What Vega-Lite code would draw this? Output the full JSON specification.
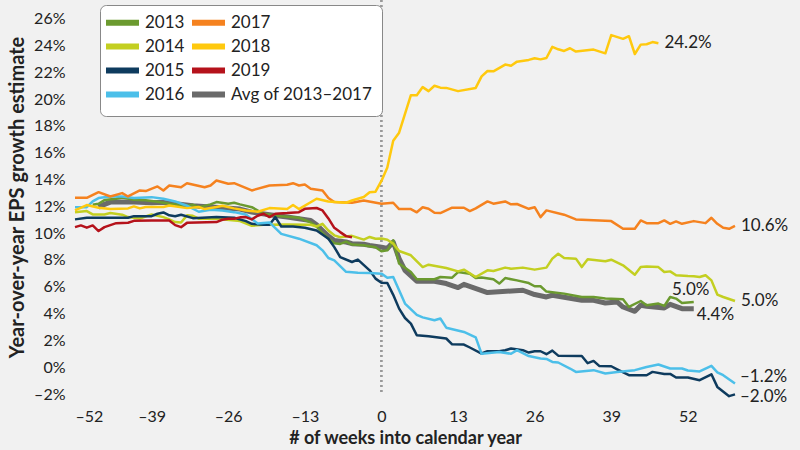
{
  "$schema": "https://vega.github.io/schema/vega-lite/v6.json",
  "width": 660,
  "height": 394,
  "autosize": {"type": "none"},
  "padding": {"left": 75, "right": 65, "top": 0, "bottom": 56},
  "background": "#f1f1f1",
  "config": {"view": {"stroke": null}, "font": "Lato", "axis": {"labelOverlap": false, "labelSeparation": 0}},
  "datasets": {
    "lines": [
      {"series":"Avg of 2013–2017","week":-48,"value":11.94},{"series":"Avg of 2013–2017","week":-47,"value":12.15},{"series":"Avg of 2013–2017","week":-46,"value":12.32},{"series":"Avg of 2013–2017","week":-44,"value":12.32},{"series":"Avg of 2013–2017","week":-42,"value":12.32},{"series":"Avg of 2013–2017","week":-39,"value":12.27},{"series":"Avg of 2013–2017","week":-37,"value":12.3},{"series":"Avg of 2013–2017","week":-35,"value":12.2},{"series":"Avg of 2013–2017","week":-32,"value":12.05},{"series":"Avg of 2013–2017","week":-29,"value":11.95},{"series":"Avg of 2013–2017","week":-27,"value":11.9},{"series":"Avg of 2013–2017","week":-24,"value":11.8},{"series":"Avg of 2013–2017","week":-22,"value":11.57},{"series":"Avg of 2013–2017","week":-19,"value":11.38},{"series":"Avg of 2013–2017","week":-16,"value":11.2},{"series":"Avg of 2013–2017","week":-14,"value":11.08},{"series":"Avg of 2013–2017","week":-12,"value":10.95},{"series":"Avg of 2013–2017","week":-11,"value":10.63},{"series":"Avg of 2013–2017","week":-10,"value":10.2},{"series":"Avg of 2013–2017","week":-9,"value":9.78},{"series":"Avg of 2013–2017","week":-8,"value":9.46},{"series":"Avg of 2013–2017","week":-6,"value":9.34},{"series":"Avg of 2013–2017","week":-5,"value":9.22},{"series":"Avg of 2013–2017","week":-3,"value":9.17},{"series":"Avg of 2013–2017","week":-2,"value":9.09},{"series":"Avg of 2013–2017","week":0,"value":8.96},{"series":"Avg of 2013–2017","week":1,"value":8.86},{"series":"Avg of 2013–2017","week":2,"value":9.34},{"series":"Avg of 2013–2017","week":3,"value":8.1},{"series":"Avg of 2013–2017","week":4,"value":7.23},{"series":"Avg of 2013–2017","week":6,"value":6.41},{"series":"Avg of 2013–2017","week":9,"value":6.41},{"series":"Avg of 2013–2017","week":11,"value":6.24},{"series":"Avg of 2013–2017","week":13,"value":5.94},{"series":"Avg of 2013–2017","week":14,"value":6.18},{"series":"Avg of 2013–2017","week":18,"value":5.57},{"series":"Avg of 2013–2017","week":24,"value":5.74},{"series":"Avg of 2013–2017","week":26,"value":5.42},{"series":"Avg of 2013–2017","week":28,"value":5.24},{"series":"Avg of 2013–2017","week":29,"value":5.37},{"series":"Avg of 2013–2017","week":31,"value":5.22},{"series":"Avg of 2013–2017","week":34,"value":4.99},{"series":"Avg of 2013–2017","week":36,"value":4.99},{"series":"Avg of 2013–2017","week":38,"value":4.79},{"series":"Avg of 2013–2017","week":40,"value":4.87},{"series":"Avg of 2013–2017","week":41,"value":4.49},{"series":"Avg of 2013–2017","week":43,"value":4.17},{"series":"Avg of 2013–2017","week":44,"value":4.62},{"series":"Avg of 2013–2017","week":45,"value":4.55},{"series":"Avg of 2013–2017","week":48,"value":4.42},{"series":"Avg of 2013–2017","week":49,"value":4.69},{"series":"Avg of 2013–2017","week":51,"value":4.37},{"series":"Avg of 2013–2017","week":53,"value":4.37},

      {"series":"2013","week":-49,"value":12.12},{"series":"2013","week":-48,"value":12.2},{"series":"2013","week":-47,"value":12.47},{"series":"2013","week":-45,"value":12.57},{"series":"2013","week":-44,"value":12.66},{"series":"2013","week":-42,"value":12.5},{"series":"2013","week":-40,"value":12.45},{"series":"2013","week":-38,"value":12.35},{"series":"2013","week":-36,"value":12.2},{"series":"2013","week":-34,"value":12.1},{"series":"2013","week":-33,"value":12.07},{"series":"2013","week":-32,"value":12.12},{"series":"2013","week":-31,"value":11.94},{"series":"2013","week":-29,"value":12.15},{"series":"2013","week":-28,"value":12.32},{"series":"2013","week":-26,"value":12.2},{"series":"2013","week":-25,"value":12.27},{"series":"2013","week":-24,"value":12.15},{"series":"2013","week":-22,"value":11.94},{"series":"2013","week":-20,"value":11.45},{"series":"2013","week":-17,"value":11.27},{"series":"2013","week":-14,"value":11.15},{"series":"2013","week":-12,"value":10.8},{"series":"2013","week":-11,"value":10.5},{"series":"2013","week":-10,"value":10.0},{"series":"2013","week":-9,"value":9.6},{"series":"2013","week":-8,"value":9.25},{"series":"2013","week":-7,"value":9.2},{"series":"2013","week":-6,"value":9.37},{"series":"2013","week":-5,"value":9.15},{"series":"2013","week":-3,"value":9.1},{"series":"2013","week":-1,"value":8.95},{"series":"2013","week":0,"value":8.65},{"series":"2013","week":1,"value":8.72},{"series":"2013","week":2,"value":9.46},{"series":"2013","week":3,"value":7.73},{"series":"2013","week":5,"value":7.1},{"series":"2013","week":6,"value":6.56},{"series":"2013","week":9,"value":6.56},{"series":"2013","week":10,"value":6.73},{"series":"2013","week":12,"value":6.68},{"series":"2013","week":13,"value":7.1},{"series":"2013","week":15,"value":6.97},{"series":"2013","week":16,"value":6.65},{"series":"2013","week":17,"value":6.7},{"series":"2013","week":19,"value":6.56},{"series":"2013","week":20,"value":6.24},{"series":"2013","week":21,"value":6.65},{"series":"2013","week":23,"value":6.48},{"series":"2013","week":25,"value":6.28},{"series":"2013","week":26,"value":6.04},{"series":"2013","week":27,"value":6.04},{"series":"2013","week":28,"value":5.64},{"series":"2013","week":31,"value":5.49},{"series":"2013","week":34,"value":5.24},{"series":"2013","week":36,"value":5.24},{"series":"2013","week":38,"value":5.12},{"series":"2013","week":41,"value":5.07},{"series":"2013","week":42,"value":4.5},{"series":"2013","week":44,"value":4.94},{"series":"2013","week":45,"value":4.62},{"series":"2013","week":47,"value":4.75},{"series":"2013","week":48,"value":4.57},{"series":"2013","week":49,"value":5.24},{"series":"2013","week":50,"value":5.12},{"series":"2013","week":51,"value":4.79},{"series":"2013","week":53,"value":4.87},

      {"series":"2014","week":-52,"value":11.57},{"series":"2014","week":-50,"value":11.65},{"series":"2014","week":-49,"value":11.4},{"series":"2014","week":-47,"value":11.4},{"series":"2014","week":-46,"value":11.5},{"series":"2014","week":-44,"value":11.38},{"series":"2014","week":-43,"value":11.2},{"series":"2014","week":-41,"value":11.1},{"series":"2014","week":-39,"value":11.4},{"series":"2014","week":-37,"value":11.2},{"series":"2014","week":-36,"value":11.03},{"series":"2014","week":-35,"value":10.83},{"series":"2014","week":-34,"value":10.8},{"series":"2014","week":-33,"value":11.33},{"series":"2014","week":-32,"value":11.3},{"series":"2014","week":-31,"value":11.08},{"series":"2014","week":-28,"value":11.08},{"series":"2014","week":-24,"value":10.9},{"series":"2014","week":-22,"value":10.55},{"series":"2014","week":-20,"value":10.63},{"series":"2014","week":-16,"value":10.65},{"series":"2014","week":-12,"value":10.63},{"series":"2014","week":-11,"value":10.5},{"series":"2014","week":-10,"value":10.7},{"series":"2014","week":-9,"value":10.2},{"series":"2014","week":-8,"value":9.84},{"series":"2014","week":-7,"value":9.7},{"series":"2014","week":-5,"value":9.8},{"series":"2014","week":-3,"value":9.52},{"series":"2014","week":-2,"value":9.72},{"series":"2014","week":-1,"value":9.59},{"series":"2014","week":0,"value":9.6},{"series":"2014","week":1,"value":9.51},{"series":"2014","week":2,"value":9.22},{"series":"2014","week":3,"value":8.67},{"series":"2014","week":5,"value":8.35},{"series":"2014","week":7,"value":7.47},{"series":"2014","week":8,"value":7.65},{"series":"2014","week":11,"value":7.4},{"series":"2014","week":13,"value":7.15},{"series":"2014","week":14,"value":7.28},{"series":"2014","week":16,"value":6.73},{"series":"2014","week":18,"value":7.23},{"series":"2014","week":19,"value":7.18},{"series":"2014","week":21,"value":7.43},{"series":"2014","week":22,"value":7.35},{"series":"2014","week":24,"value":7.43},{"series":"2014","week":26,"value":7.28},{"series":"2014","week":28,"value":7.43},{"series":"2014","week":29,"value":8.1},{"series":"2014","week":30,"value":8.47},{"series":"2014","week":31,"value":8.15},{"series":"2014","week":33,"value":8.1},{"series":"2014","week":34,"value":7.47},{"series":"2014","week":35,"value":8.05},{"series":"2014","week":38,"value":7.9},{"series":"2014","week":39,"value":8.02},{"series":"2014","week":41,"value":7.6},{"series":"2014","week":43,"value":6.9},{"series":"2014","week":44,"value":7.47},{"series":"2014","week":45,"value":7.52},{"series":"2014","week":47,"value":7.47},{"series":"2014","week":48,"value":7.1},{"series":"2014","week":49,"value":7.15},{"series":"2014","week":50,"value":6.86},{"series":"2014","week":52,"value":6.8},{"series":"2014","week":53,"value":6.78},{"series":"2014","week":54,"value":6.73},{"series":"2014","week":55,"value":6.86},{"series":"2014","week":56,"value":6.48},{"series":"2014","week":57,"value":5.42},{"series":"2014","week":58,"value":5.24},{"series":"2014","week":60,"value":4.94},

      {"series":"2015","week":-52,"value":11.03},{"series":"2015","week":-50,"value":11.15},{"series":"2015","week":-43,"value":11.15},{"series":"2015","week":-42,"value":11.27},{"series":"2015","week":-39,"value":11.27},{"series":"2015","week":-38,"value":11.45},{"series":"2015","week":-37,"value":11.55},{"series":"2015","week":-36,"value":11.33},{"series":"2015","week":-35,"value":11.27},{"series":"2015","week":-34,"value":11.38},{"series":"2015","week":-32,"value":11.12},{"series":"2015","week":-28,"value":11.2},{"series":"2015","week":-25,"value":11.15},{"series":"2015","week":-23,"value":10.9},{"series":"2015","week":-22,"value":10.7},{"series":"2015","week":-20,"value":10.63},{"series":"2015","week":-19,"value":10.63},{"series":"2015","week":-18,"value":11.2},{"series":"2015","week":-17,"value":10.5},{"series":"2015","week":-15,"value":10.5},{"series":"2015","week":-13,"value":10.41},{"series":"2015","week":-11,"value":10.2},{"series":"2015","week":-9,"value":9.59},{"series":"2015","week":-8,"value":8.96},{"series":"2015","week":-7,"value":8.22},{"series":"2015","week":-5,"value":7.85},{"series":"2015","week":-4,"value":8.03},{"series":"2015","week":-2,"value":7.23},{"series":"2015","week":-1,"value":6.61},{"series":"2015","week":0,"value":6.3},{"series":"2015","week":1,"value":6.28},{"series":"2015","week":2,"value":5.4},{"series":"2015","week":3,"value":4.37},{"series":"2015","week":4,"value":3.67},{"series":"2015","week":5,"value":3.25},{"series":"2015","week":6,"value":2.38},{"series":"2015","week":8,"value":2.31},{"series":"2015","week":11,"value":2.14},{"series":"2015","week":12,"value":1.71},{"series":"2015","week":14,"value":1.69},{"series":"2015","week":15,"value":1.47},{"series":"2015","week":17,"value":1.02},{"series":"2015","week":18,"value":1.19},{"series":"2015","week":20,"value":1.19},{"series":"2015","week":21,"value":1.27},{"series":"2015","week":22,"value":1.39},{"series":"2015","week":24,"value":1.27},{"series":"2015","week":25,"value":1.09},{"series":"2015","week":26,"value":1.19},{"series":"2015","week":27,"value":1.19},{"series":"2015","week":28,"value":0.97},{"series":"2015","week":29,"value":1.24},{"series":"2015","week":30,"value":0.86},{"series":"2015","week":34,"value":0.84},{"series":"2015","week":35,"value":0.3},{"series":"2015","week":36,"value":0.47},{"series":"2015","week":37,"value":0.08},{"series":"2015","week":39,"value":0.07},{"series":"2015","week":40,"value":-0.16},{"series":"2015","week":42,"value":-0.6},{"series":"2015","week":45,"value":-0.6},{"series":"2015","week":46,"value":-0.35},{"series":"2015","week":48,"value":-0.5},{"series":"2015","week":49,"value":-0.5},{"series":"2015","week":50,"value":-0.77},{"series":"2015","week":52,"value":-0.77},{"series":"2015","week":54,"value":-0.97},{"series":"2015","week":56,"value":-0.53},{"series":"2015","week":57,"value":-1.47},{"series":"2015","week":59,"value":-2.16},{"series":"2015","week":60,"value":-2.03},

      {"series":"2016","week":-52,"value":11.94},{"series":"2016","week":-50,"value":11.94},{"series":"2016","week":-49,"value":12.37},{"series":"2016","week":-48,"value":12.62},{"series":"2016","week":-46,"value":12.74},{"series":"2016","week":-44,"value":12.74},{"series":"2016","week":-42,"value":12.62},{"series":"2016","week":-39,"value":12.69},{"series":"2016","week":-37,"value":12.57},{"series":"2016","week":-35,"value":12.37},{"series":"2016","week":-33,"value":12.05},{"series":"2016","week":-31,"value":11.6},{"series":"2016","week":-29,"value":11.75},{"series":"2016","week":-27,"value":11.7},{"series":"2016","week":-25,"value":11.57},{"series":"2016","week":-23,"value":11.4},{"series":"2016","week":-22,"value":11.05},{"series":"2016","week":-21,"value":10.72},{"series":"2016","week":-19,"value":10.8},{"series":"2016","week":-17,"value":9.95},{"series":"2016","week":-14,"value":9.59},{"series":"2016","week":-11,"value":9.1},{"series":"2016","week":-10,"value":8.72},{"series":"2016","week":-9,"value":8.15},{"series":"2016","week":-8,"value":7.97},{"series":"2016","week":-6,"value":7.12},{"series":"2016","week":-4,"value":7.05},{"series":"2016","week":-2,"value":7.03},{"series":"2016","week":0,"value":6.98},{"series":"2016","week":1,"value":6.68},{"series":"2016","week":2,"value":6.73},{"series":"2016","week":3,"value":5.74},{"series":"2016","week":4,"value":4.75},{"series":"2016","week":6,"value":3.9},{"series":"2016","week":7,"value":3.72},{"series":"2016","week":9,"value":3.5},{"series":"2016","week":10,"value":3.63},{"series":"2016","week":11,"value":2.95},{"series":"2016","week":14,"value":2.63},{"series":"2016","week":16,"value":2.23},{"series":"2016","week":17,"value":1.0},{"series":"2016","week":20,"value":1.14},{"series":"2016","week":22,"value":1.0},{"series":"2016","week":23,"value":1.27},{"series":"2016","week":25,"value":0.83},{"series":"2016","week":27,"value":0.65},{"series":"2016","week":28,"value":0.62},{"series":"2016","week":29,"value":0.39},{"series":"2016","week":30,"value":0.35},{"series":"2016","week":32,"value":-0.1},{"series":"2016","week":33,"value":-0.35},{"series":"2016","week":36,"value":-0.22},{"series":"2016","week":38,"value":-0.47},{"series":"2016","week":40,"value":-0.35},{"series":"2016","week":43,"value":-0.22},{"series":"2016","week":45,"value":0.02},{"series":"2016","week":47,"value":0.2},{"series":"2016","week":49,"value":-0.1},{"series":"2016","week":51,"value":-0.1},{"series":"2016","week":52,"value":-0.25},{"series":"2016","week":54,"value":-0.32},{"series":"2016","week":56,"value":0.1},{"series":"2016","week":57,"value":-0.38},{"series":"2016","week":58,"value":-0.6},{"series":"2016","week":60,"value":-1.21},

      {"series":"2017","week":-52,"value":12.64},{"series":"2017","week":-50,"value":12.64},{"series":"2017","week":-48,"value":13.06},{"series":"2017","week":-46,"value":12.74},{"series":"2017","week":-44,"value":12.99},{"series":"2017","week":-43,"value":12.74},{"series":"2017","week":-41,"value":13.19},{"series":"2017","week":-40,"value":13.14},{"series":"2017","week":-38,"value":13.49},{"series":"2017","week":-37,"value":13.19},{"series":"2017","week":-36,"value":13.56},{"series":"2017","week":-34,"value":13.43},{"series":"2017","week":-33,"value":13.73},{"series":"2017","week":-30,"value":13.43},{"series":"2017","week":-29,"value":13.56},{"series":"2017","week":-28,"value":13.93},{"series":"2017","week":-26,"value":13.69},{"series":"2017","week":-25,"value":13.73},{"series":"2017","week":-22,"value":13.19},{"series":"2017","week":-19,"value":13.56},{"series":"2017","week":-16,"value":13.61},{"series":"2017","week":-15,"value":13.73},{"series":"2017","week":-14,"value":13.56},{"series":"2017","week":-13,"value":13.64},{"series":"2017","week":-12,"value":13.32},{"series":"2017","week":-10,"value":13.19},{"series":"2017","week":-9,"value":12.62},{"series":"2017","week":-8,"value":12.32},{"series":"2017","week":-5,"value":12.27},{"series":"2017","week":-3,"value":12.44},{"series":"2017","week":0,"value":12.2},{"series":"2017","week":2,"value":12.27},{"series":"2017","week":3,"value":11.8},{"series":"2017","week":5,"value":11.8},{"series":"2017","week":6,"value":11.56},{"series":"2017","week":7,"value":11.94},{"series":"2017","week":8,"value":11.82},{"series":"2017","week":9,"value":11.53},{"series":"2017","week":10,"value":11.5},{"series":"2017","week":12,"value":11.9},{"series":"2017","week":14,"value":11.9},{"series":"2017","week":15,"value":11.65},{"series":"2017","week":16,"value":11.85},{"series":"2017","week":18,"value":12.37},{"series":"2017","week":19,"value":12.2},{"series":"2017","week":21,"value":12.37},{"series":"2017","week":22,"value":12.15},{"series":"2017","week":23,"value":12.18},{"series":"2017","week":25,"value":11.82},{"series":"2017","week":26,"value":11.94},{"series":"2017","week":27,"value":11.2},{"series":"2017","week":28,"value":11.7},{"series":"2017","week":31,"value":11.38},{"series":"2017","week":33,"value":11.03},{"series":"2017","week":39,"value":10.9},{"series":"2017","week":41,"value":10.33},{"series":"2017","week":43,"value":10.33},{"series":"2017","week":44,"value":10.95},{"series":"2017","week":45,"value":10.75},{"series":"2017","week":47,"value":10.75},{"series":"2017","week":48,"value":10.95},{"series":"2017","week":49,"value":10.7},{"series":"2017","week":50,"value":10.88},{"series":"2017","week":51,"value":10.7},{"series":"2017","week":53,"value":10.9},{"series":"2017","week":55,"value":10.75},{"series":"2017","week":56,"value":11.15},{"series":"2017","week":57,"value":10.7},{"series":"2017","week":58,"value":10.4},{"series":"2017","week":59,"value":10.33},{"series":"2017","week":60,"value":10.55},

      {"series":"2018","week":-52,"value":11.7},{"series":"2018","week":-50,"value":12.1},{"series":"2018","week":-48,"value":11.9},{"series":"2018","week":-46,"value":11.8},{"series":"2018","week":-43,"value":11.85},{"series":"2018","week":-42,"value":12.0},{"series":"2018","week":-41,"value":11.85},{"series":"2018","week":-40,"value":11.95},{"series":"2018","week":-37,"value":11.95},{"series":"2018","week":-36,"value":12.07},{"series":"2018","week":-33,"value":11.87},{"series":"2018","week":-31,"value":11.95},{"series":"2018","week":-30,"value":11.8},{"series":"2018","week":-28,"value":11.95},{"series":"2018","week":-27,"value":12.05},{"series":"2018","week":-25,"value":11.85},{"series":"2018","week":-23,"value":11.7},{"series":"2018","week":-21,"value":11.6},{"series":"2018","week":-19,"value":11.87},{"series":"2018","week":-16,"value":11.8},{"series":"2018","week":-15,"value":12.1},{"series":"2018","week":-14,"value":11.8},{"series":"2018","week":-11,"value":12.57},{"series":"2018","week":-9,"value":12.37},{"series":"2018","week":-6,"value":12.27},{"series":"2018","week":-5,"value":12.44},{"series":"2018","week":-3,"value":12.7},{"series":"2018","week":-2,"value":13.06},{"series":"2018","week":-1,"value":13.1},{"series":"2018","week":0,"value":13.9},{"series":"2018","week":1,"value":14.9},{"series":"2018","week":2,"value":16.9},{"series":"2018","week":3,"value":17.5},{"series":"2018","week":5,"value":20.3},{"series":"2018","week":6,"value":20.3},{"series":"2018","week":7,"value":20.9},{"series":"2018","week":8,"value":20.6},{"series":"2018","week":9,"value":21.0},{"series":"2018","week":10,"value":20.86},{"series":"2018","week":11,"value":20.84},{"series":"2018","week":13,"value":20.6},{"series":"2018","week":16,"value":20.84},{"series":"2018","week":17,"value":21.7},{"series":"2018","week":18,"value":22.1},{"series":"2018","week":19,"value":22.08},{"series":"2018","week":21,"value":22.58},{"series":"2018","week":22,"value":22.5},{"series":"2018","week":23,"value":22.8},{"series":"2018","week":25,"value":22.93},{"series":"2018","week":26,"value":23.05},{"series":"2018","week":27,"value":22.97},{"series":"2018","week":28,"value":23.07},{"series":"2018","week":29,"value":23.9},{"series":"2018","week":30,"value":23.72},{"series":"2018","week":31,"value":23.6},{"series":"2018","week":32,"value":23.8},{"series":"2018","week":33,"value":23.55},{"series":"2018","week":36,"value":23.7},{"series":"2018","week":38,"value":23.42},{"series":"2018","week":39,"value":24.78},{"series":"2018","week":41,"value":24.5},{"series":"2018","week":42,"value":24.7},{"series":"2018","week":43,"value":23.37},{"series":"2018","week":44,"value":24.07},{"series":"2018","week":45,"value":24.1},{"series":"2018","week":46,"value":24.26},{"series":"2018","week":47,"value":24.17},

      {"series":"2019","week":-52,"value":10.45},{"series":"2019","week":-51,"value":10.58},{"series":"2019","week":-50,"value":10.41},{"series":"2019","week":-49,"value":10.58},{"series":"2019","week":-48,"value":10.16},{"series":"2019","week":-47,"value":10.45},{"series":"2019","week":-45,"value":10.75},{"series":"2019","week":-43,"value":10.78},{"series":"2019","week":-42,"value":10.92},{"series":"2019","week":-39,"value":10.95},{"series":"2019","week":-36,"value":10.95},{"series":"2019","week":-35,"value":10.6},{"series":"2019","week":-34,"value":10.45},{"series":"2019","week":-33,"value":10.77},{"series":"2019","week":-28,"value":10.83},{"series":"2019","week":-27,"value":11.0},{"series":"2019","week":-26,"value":11.08},{"series":"2019","week":-25,"value":11.08},{"series":"2019","week":-24,"value":11.18},{"series":"2019","week":-23,"value":11.2},{"series":"2019","week":-22,"value":11.03},{"series":"2019","week":-21,"value":11.3},{"series":"2019","week":-20,"value":11.45},{"series":"2019","week":-19,"value":11.2},{"series":"2019","week":-18,"value":11.45},{"series":"2019","week":-16,"value":11.5},{"series":"2019","week":-14,"value":11.57},{"series":"2019","week":-13,"value":11.82},{"series":"2019","week":-11,"value":11.88},{"series":"2019","week":-10,"value":11.7},{"series":"2019","week":-9,"value":11.1},{"series":"2019","week":-8,"value":10.4},{"series":"2019","week":-7,"value":10.08},{"series":"2019","week":-6,"value":9.78},{"series":"2019","week":-5,"value":9.7}
    ],
    "labels": [
      {"series":"2018","week":47,"value":24.17,"label":"24.2%"},
      {"series":"2017","week":60,"value":10.55,"label":"10.6%"},
      {"series":"2014","week":60,"value":4.94,"label":"5.0%"},
      {"series":"2016","week":60,"value":-1.21,"label":"–1.2%"},
      {"series":"2015","week":60,"value":-2.03,"label":"–2.0%"},
      {"series":"2013","week":53,"value":4.87,"label":"5.0%"},
      {"series":"Avg of 2013–2017","week":53,"value":4.37,"label":"4.4%"}
    ]
  },
  "data": {"name": "labels"},
  "layer": [
    {
      "mark": {"type": "rule", "strokeDash": [2, 3], "color": "#999999", "strokeWidth": 1.5},
      "encoding": {
        "x": {"datum": 0, "type": "quantitative", "scale": {"domain": [-52, 60], "nice": false},
          "axis": {"values": [-52, -39, -26, -13, 0, 13, 26, 39, 52], "tickCount": 20, "labelExpr": "replace(toString(datum.value), '-', '–')", "labelOverlap": false, "grid": false, "domain": false, "ticks": false, "labelPadding": 14, "labelFontSize": 16, "labelColor": "#222222", "title": "# of weeks into calendar year", "titleFontSize": 18, "titleFontWeight": "bold", "titleColor": "#222222", "titlePadding": 5}}
      }
    },
    {
      "data": {"name": "lines"},
      "mark": {"type": "line", "strokeJoin": "round", "clip": false},
      "encoding": {
        "x": {"field": "week", "type": "quantitative", "scale": {"domain": [-52, 60], "nice": false},
          "axis": {"values": [-52, -39, -26, -13, 0, 13, 26, 39, 52], "tickCount": 20, "labelExpr": "replace(toString(datum.value), '-', '–')", "labelOverlap": false, "grid": false, "domain": false, "ticks": false, "labelPadding": 14, "labelFontSize": 16, "labelColor": "#222222", "title": "# of weeks into calendar year", "titleFontSize": 18, "titleFontWeight": "bold", "titleColor": "#222222", "titlePadding": 5}},
        "y": {"field": "value", "type": "quantitative", "scale": {"domain": [-2, 27.4], "nice": false, "zero": false},
          "axis": {"values": [-2, 0, 2, 4, 6, 8, 10, 12, 14, 16, 18, 20, 22, 24, 26], "tickCount": 20, "labelExpr": "replace(toString(datum.value), '-', '–') + '%'", "labelOverlap": false, "grid": false, "domain": false, "ticks": false, "labelPadding": 10, "labelFontSize": 16, "labelColor": "#222222", "title": "Year-over-year EPS growth estimate", "titleFontSize": 20, "titleFontWeight": "bold", "titleColor": "#222222", "titlePadding": 6}},
        "color": {"field": "series", "type": "nominal",
          "scale": {"domain": ["2013", "2014", "2015", "2016", "2017", "2018", "2019", "Avg of 2013–2017"],
                    "range": ["#6b9a2f", "#c3cf21", "#0e3b5e", "#4cbfe9", "#f5821f", "#ffc90e", "#b5121b", "#6a6a6a"]},
          "legend": {"orient": "none", "legendX": 25, "legendY": 5, "columns": 2, "title": null, "fillColor": "white", "strokeColor": "#888888", "cornerRadius": 6, "padding": 9, "symbolType": "M-2.09,0H3.91", "symbolSize": 121, "symbolStrokeWidth": 6, "labelFontSize": 17, "labelColor": "#222222", "rowPadding": -1, "columnPadding": -5, "labelOffset": 19}},
        "strokeWidth": {"condition": {"test": "datum.series === 'Avg of 2013–2017'", "value": 5}, "value": 2.5}
      }
    },
    {
      "transform": [{"filter": "indexof(['2018','2017','2014'], datum.series) >= 0"}],
      "mark": {"type": "text", "align": "left", "baseline": "middle", "dx": 6, "fontSize": 17, "color": "#222222"},
      "encoding": {
        "x": {"field": "week", "type": "quantitative"},
        "y": {"field": "value", "type": "quantitative"},
        "text": {"field": "label"}
      }
    },
    {
      "transform": [{"filter": "datum.series === '2016'"}],
      "mark": {"type": "text", "align": "left", "baseline": "middle", "dx": 5, "dy": -6, "fontSize": 17, "color": "#222222"},
      "encoding": {
        "x": {"field": "week", "type": "quantitative"},
        "y": {"field": "value", "type": "quantitative"},
        "text": {"field": "label"}
      }
    },
    {
      "transform": [{"filter": "datum.series === '2015'"}],
      "mark": {"type": "text", "align": "left", "baseline": "middle", "dx": 5, "dy": 3, "fontSize": 17, "color": "#222222"},
      "encoding": {
        "x": {"field": "week", "type": "quantitative"},
        "y": {"field": "value", "type": "quantitative"},
        "text": {"field": "label"}
      }
    },
    {
      "transform": [{"filter": "datum.series === '2013'"}],
      "mark": {"type": "text", "align": "center", "baseline": "middle", "dx": -3, "dy": -12, "fontSize": 17, "color": "#222222"},
      "encoding": {
        "x": {"field": "week", "type": "quantitative"},
        "y": {"field": "value", "type": "quantitative"},
        "text": {"field": "label"}
      }
    },
    {
      "transform": [{"filter": "datum.series === 'Avg of 2013–2017'"}],
      "mark": {"type": "text", "align": "left", "baseline": "middle", "dx": 3, "dy": 6, "fontSize": 17, "color": "#222222"},
      "encoding": {
        "x": {"field": "week", "type": "quantitative"},
        "y": {"field": "value", "type": "quantitative"},
        "text": {"field": "label"}
      }
    }
  ]
}
